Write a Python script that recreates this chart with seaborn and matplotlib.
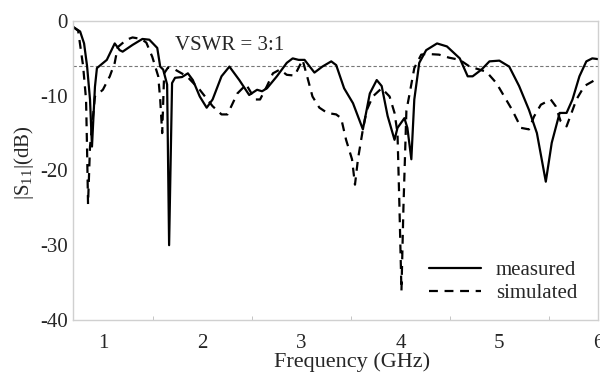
import matplotlib
matplotlib.use("Agg")
import matplotlib.pyplot as plt
import seaborn as sns
import pandas as pd
from matplotlib.ticker import MultipleLocator

# ---- data ----
meas_freq = [0.69, 0.76, 0.80, 0.83, 0.86, 0.88, 0.91, 0.93, 1.03, 1.11, 1.16, 1.19,
             1.29, 1.39, 1.46, 1.54, 1.57, 1.60, 1.64, 1.66, 1.69, 1.72, 1.79, 1.85,
             1.90, 1.97, 2.04, 2.10, 2.19, 2.27, 2.37, 2.47, 2.55, 2.60, 2.65, 2.75,
             2.85, 2.91, 2.97, 3.03, 3.13, 3.21, 3.30, 3.35, 3.43, 3.52, 3.62, 3.69,
             3.76, 3.81, 3.87, 3.94, 3.97, 4.04, 4.07, 4.11, 4.14, 4.19, 4.26, 4.37,
             4.47, 4.60, 4.68, 4.73, 4.82, 4.90, 5.00, 5.10, 5.20, 5.30, 5.38, 5.47,
             5.53, 5.61, 5.68, 5.74, 5.81, 5.88, 5.94, 6.00]
meas_s11 = [-0.8, -1.4, -3.0, -6.0, -10.5, -16.8, -8.8, -6.3, -5.2, -3.0, -3.9, -4.1,
            -3.2, -2.4, -2.5, -3.6, -6.1, -6.5, -8.5, -30.0, -8.3, -7.6, -7.5, -7.0,
            -7.9, -10.1, -11.6, -10.5, -7.4, -6.1, -7.9, -9.9, -9.2, -9.4, -9.0, -7.4,
            -5.6, -5.0, -5.2, -5.2, -6.9, -6.1, -5.4, -5.9, -9.0, -11.0, -14.5, -9.7,
            -7.9, -8.7, -12.7, -15.9, -14.3, -13.0, -14.3, -18.5, -10.5, -5.6, -3.9, -3.0,
            -3.4, -5.0, -7.4, -7.4, -6.5, -5.4, -5.3, -6.1, -8.7, -11.9, -15.0, -21.5,
            -16.3, -12.3, -12.3, -10.5, -7.4, -5.4, -5.0, -5.1]

sim_freq = [0.69, 0.74, 0.79, 0.82, 0.83, 0.84, 0.86, 0.91, 0.99, 1.06, 1.11, 1.14,
            1.23, 1.29, 1.38, 1.43, 1.49, 1.55, 1.57, 1.59, 1.61, 1.65, 1.72, 1.84,
            1.97, 2.10, 2.19, 2.25, 2.35, 2.44, 2.53, 2.58, 2.65, 2.71, 2.78, 2.85,
            2.93, 3.01, 3.06, 3.11, 3.18, 3.26, 3.35, 3.40, 3.45, 3.51, 3.54, 3.57,
            3.62, 3.66, 3.72, 3.81, 3.89, 3.94, 3.97, 3.99, 4.01, 4.03, 4.06, 4.09,
            4.14, 4.21, 4.26, 4.39, 4.49, 4.60, 4.70, 4.80, 4.87, 4.97, 5.05, 5.13,
            5.22, 5.30, 5.35, 5.42, 5.52, 5.57, 5.62, 5.68, 5.73, 5.78, 5.86, 5.94, 6.00]
sim_s11 = [-0.8, -1.3, -6.0, -10.5, -17.0, -24.5, -16.8, -10.1, -9.2, -7.4, -5.6, -3.5,
           -2.5, -2.2, -2.4, -2.9, -4.8, -7.4, -10.5, -15.0, -7.0, -6.2, -6.5, -7.4,
           -9.2, -11.4, -12.5, -12.5, -9.7, -8.5, -10.5, -10.5, -8.7, -7.0, -6.5, -7.2,
           -7.3, -5.2, -7.6, -10.1, -11.6, -12.3, -12.5, -13.0, -15.9, -18.5, -21.9, -18.5,
           -14.5, -11.9, -10.1, -9.0, -10.1, -12.3, -15.0, -25.0, -36.1, -25.0, -12.0, -9.9,
           -6.3, -4.5, -4.4, -4.5, -4.9, -5.2, -6.1, -6.5, -6.8, -8.3, -10.1, -11.9,
           -14.3, -14.5, -12.8, -11.2, -10.5, -11.4, -13.4, -14.1, -12.3, -10.5, -8.7, -8.1, -7.6]

series_names = ["measured", "simulated"]
vswr_level = -6.0
vswr_label = "VSWR = 3:1"
x_label = "Frequency (GHz)"
y_label = "|S$_{11}$|(dB)"
x_ticks = [1, 2, 3, 4, 5, 6]
y_ticks = [0, -10, -20, -30, -40]

df = pd.concat([
    pd.DataFrame({"freq": meas_freq, "s11": meas_s11, "series": series_names[0]}),
    pd.DataFrame({"freq": sim_freq, "s11": sim_s11, "series": series_names[1]}),
], ignore_index=True)

# ---- style ----
sns.set_style("white")
plt.rcParams["font.family"] = ["Liberation Serif", "DejaVu Serif"]
plt.rcParams["mathtext.fontset"] = "custom"
plt.rcParams["mathtext.rm"] = "Liberation Serif"
plt.rcParams["mathtext.it"] = "Liberation Serif"
plt.rcParams["axes.unicode_minus"] = False

FS = 15

fig = plt.figure(figsize=(6.0, 3.72), dpi=100)
ax = fig.add_axes([0.122, 0.140, 0.875, 0.8035])

sns.lineplot(data=df, x="freq", y="s11", hue="series", style="series",
             palette={"measured": "black", "simulated": "black"},
             dashes={"measured": "", "simulated": (4, 3)},
             linewidth=1.6, sort=False, estimator=None, ax=ax)

ax.axhline(vswr_level, color="#777777", lw=0.8, ls=(0, (3, 2)), zorder=1)
ax.text(1.72, -3.3, vswr_label, fontsize=FS, va="center", ha="left")

ax.set_xlim(0.69, 6.0)
ax.set_ylim(-40, 0)
ax.set_xticks(x_ticks)
ax.set_yticks(y_ticks)
ax.xaxis.set_minor_locator(MultipleLocator(0.5))
ax.tick_params(axis="x", which="major", direction="in", length=5, color="#bbbbbb",
               labelsize=FS, pad=10)
ax.tick_params(axis="x", which="minor", direction="in", length=3, color="#bbbbbb",
               bottom=True)
ax.tick_params(axis="y", which="major", direction="inout", length=6, color="#bbbbbb",
               labelsize=FS, pad=1)
for sp in ax.spines.values():
    sp.set_color("#d0d0d0")
    sp.set_linewidth(1.0)

ax.set_xlabel(x_label, fontsize=16)
ax.xaxis.set_label_coords(0.531, -0.108)
ax.set_ylabel(y_label, fontsize=FS)
ax.yaxis.set_label_coords(-0.07, 0.525)

leg = ax.legend(loc="upper left", bbox_to_anchor=(0.677, 0.198), frameon=False,
                fontsize=FS, handlelength=2.5, handletextpad=0.72, labelspacing=0.15,
                borderpad=0, borderaxespad=0)

fig.savefig("out.png", dpi=100)
